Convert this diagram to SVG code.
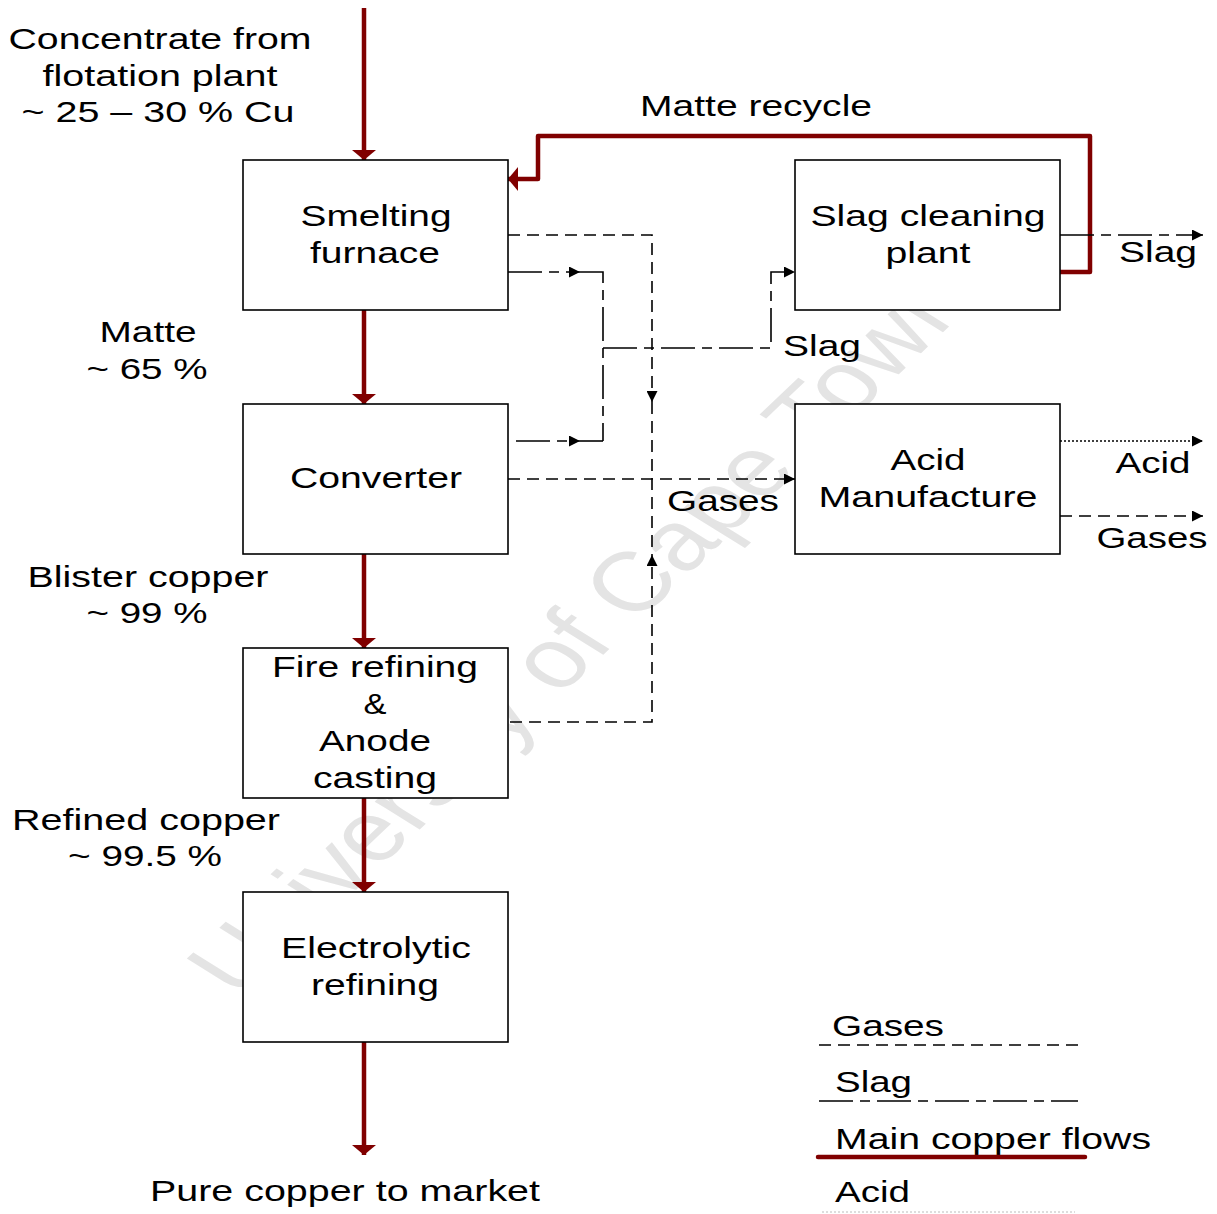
<svg xmlns="http://www.w3.org/2000/svg" width="1217" height="1214" viewBox="0 0 1217 1214">
<style>
text{font-family:"Liberation Sans",Arial,sans-serif;font-size:30px;fill:#000}
.c{text-anchor:middle}
.box{fill:#fff;stroke:#000;stroke-width:1.6}
.red{fill:none;stroke:#800000;stroke-width:4.5}
.gas{fill:none;stroke:#000;stroke-width:1.6;stroke-dasharray:12 7}
.slag{fill:none;stroke:#000;stroke-width:1.6;stroke-dasharray:34 7 10 7}
.acid{fill:none;stroke:#000;stroke-width:1.4;stroke-dasharray:2 2}
.wm{font-size:84px;fill:#e4e4e4}
</style>
<defs>
<marker id="ra" markerUnits="userSpaceOnUse" viewBox="0 0 10 24" markerWidth="10" markerHeight="24" refX="10" refY="12" orient="auto"><path d="M0,0 L10,12 L0,24 z" fill="#800000"/></marker>
<marker id="ba" markerUnits="userSpaceOnUse" viewBox="0 0 11 11" markerWidth="11" markerHeight="11" refX="11" refY="5.5" orient="auto"><path d="M0,0 L11,5.5 L0,11 z" fill="#000"/></marker>
</defs>
<rect width="1217" height="1214" fill="#fff"/>
<text class="wm" transform="translate(240,1000) scale(1.3,1) rotate(-51)" textLength="900" lengthAdjust="spacingAndGlyphs">University of Cape Town</text>

<g id="connectors">
<path class="red" d="M364,8 V160" marker-end="url(#ra)"/>
<path class="red" d="M364,310 V404" marker-end="url(#ra)"/>
<path class="red" d="M364,554 V648" marker-end="url(#ra)"/>
<path class="red" d="M364,798 V892" marker-end="url(#ra)"/>
<path class="red" d="M364,1042 V1155" marker-end="url(#ra)"/>
<path class="red" d="M1058,272 H1090 V136 H538 V179 H508" stroke-linejoin="round" marker-end="url(#ra)"/>
<path class="gas" d="M508,235 H652 V402" marker-end="url(#ba)"/>
<path class="gas" d="M652,402 V555"/>
<path class="gas" d="M510,722 H652 V555" marker-end="url(#ba)"/>
<path class="gas" d="M508,479 H795" marker-end="url(#ba)"/>
<path class="slag" d="M508,272 H580" marker-end="url(#ba)"/>
<path class="slag" d="M580,272 H603 V441"/>
<path class="slag" d="M516,441 H580" marker-end="url(#ba)"/>
<path class="slag" d="M580,441 H603"/>
<path class="slag" d="M603,348 H771 V272 H795" marker-end="url(#ba)"/>
<path class="slag" d="M1060,235 H1203" marker-end="url(#ba)"/>
<path class="acid" d="M1060,441 H1203" marker-end="url(#ba)"/>
<path class="gas" d="M1060,516 H1203" marker-end="url(#ba)"/>
</g>

<g id="smelting">
<rect class="box" x="243" y="160" width="265" height="150"/>
<text class="c" x="376" y="226" textLength="151" lengthAdjust="spacingAndGlyphs">Smelting</text>
<text class="c" x="375" y="263" textLength="130" lengthAdjust="spacingAndGlyphs">furnace</text>
</g>
<g id="converter">
<rect class="box" x="243" y="404" width="265" height="150"/>
<text class="c" x="376" y="488" textLength="172" lengthAdjust="spacingAndGlyphs">Converter</text>
</g>
<g id="fire-refining">
<rect class="box" x="243" y="648" width="265" height="150"/>
<text class="c" x="375" y="677" textLength="206" lengthAdjust="spacingAndGlyphs">Fire refining</text>
<text class="c" x="375" y="714" textLength="23" lengthAdjust="spacingAndGlyphs">&amp;</text>
<text class="c" x="375" y="751" textLength="112" lengthAdjust="spacingAndGlyphs">Anode</text>
<text class="c" x="375" y="788" textLength="124" lengthAdjust="spacingAndGlyphs">casting</text>
</g>
<g id="electrolytic">
<rect class="box" x="243" y="892" width="265" height="150"/>
<text class="c" x="376" y="958" textLength="190" lengthAdjust="spacingAndGlyphs">Electrolytic</text>
<text class="c" x="375" y="995" textLength="128" lengthAdjust="spacingAndGlyphs">refining</text>
</g>
<g id="slag-cleaning">
<rect class="box" x="795" y="160" width="265" height="150"/>
<text class="c" x="928" y="226" textLength="235" lengthAdjust="spacingAndGlyphs">Slag cleaning</text>
<text class="c" x="928" y="263" textLength="85" lengthAdjust="spacingAndGlyphs">plant</text>
</g>
<g id="acid-manufacture">
<rect class="box" x="795" y="404" width="265" height="150"/>
<text class="c" x="928" y="470" textLength="75" lengthAdjust="spacingAndGlyphs">Acid</text>
<text class="c" x="928" y="507" textLength="219" lengthAdjust="spacingAndGlyphs">Manufacture</text>
</g>

<g id="labels">
<text class="c" x="160" y="49" textLength="303" lengthAdjust="spacingAndGlyphs">Concentrate from</text>
<text class="c" x="160" y="86" textLength="235" lengthAdjust="spacingAndGlyphs">flotation plant</text>
<text class="c" x="158" y="122" textLength="273" lengthAdjust="spacingAndGlyphs">~ 25 – 30 % Cu</text>
<text class="c" x="756" y="116" textLength="232" lengthAdjust="spacingAndGlyphs">Matte recycle</text>
<text class="c" x="1158" y="262" textLength="78" lengthAdjust="spacingAndGlyphs">Slag</text>
<text class="c" x="148" y="342" textLength="97" lengthAdjust="spacingAndGlyphs">Matte</text>
<text class="c" x="147" y="379" textLength="121" lengthAdjust="spacingAndGlyphs">~ 65 %</text>
<text class="c" x="822" y="356" textLength="78" lengthAdjust="spacingAndGlyphs">Slag</text>
<text class="c" x="1153" y="473" textLength="75" lengthAdjust="spacingAndGlyphs">Acid</text>
<text class="c" x="723" y="511" textLength="112" lengthAdjust="spacingAndGlyphs">Gases</text>
<text class="c" x="1152" y="548" textLength="111" lengthAdjust="spacingAndGlyphs">Gases</text>
<text class="c" x="148" y="587" textLength="241" lengthAdjust="spacingAndGlyphs">Blister copper</text>
<text class="c" x="147" y="623" textLength="121" lengthAdjust="spacingAndGlyphs">~ 99 %</text>
<text class="c" x="146" y="830" textLength="268" lengthAdjust="spacingAndGlyphs">Refined copper</text>
<text class="c" x="145" y="866" textLength="154" lengthAdjust="spacingAndGlyphs">~ 99.5 %</text>
<text class="c" x="345" y="1201" textLength="390" lengthAdjust="spacingAndGlyphs">Pure copper to market</text>
</g>

<g id="legend">
<text x="832" y="1036" textLength="112" lengthAdjust="spacingAndGlyphs">Gases</text>
<path class="gas" d="M819,1045 H1078"/>
<text x="835" y="1092" textLength="77" lengthAdjust="spacingAndGlyphs">Slag</text>
<path class="slag" d="M819,1101 H1078"/>
<text x="835" y="1149" textLength="316" lengthAdjust="spacingAndGlyphs">Main copper flows</text>
<path class="red" d="M818,1157 H1085" stroke-linecap="round"/>
<text x="835" y="1202" textLength="75" lengthAdjust="spacingAndGlyphs">Acid</text>
<path d="M822,1212 H1075" fill="none" stroke="#bbb" stroke-width="1" stroke-dasharray="2 2"/>
</g>
</svg>
